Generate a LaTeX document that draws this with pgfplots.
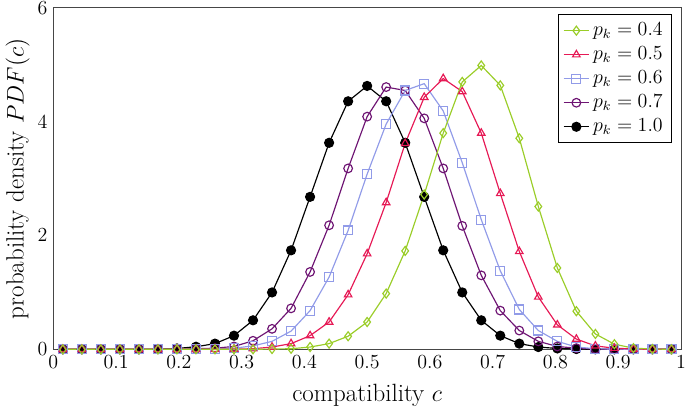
\documentclass[border=0pt]{standalone}
\usepackage{pgfplots}
\usepackage{pgfplotstable}
\pgfplotsset{compat=1.18}
\definecolor{cg}{RGB}{154,205,40}
\definecolor{cr}{RGB}{230,25,85}
\definecolor{cb}{RGB}{145,155,232}
\definecolor{cp}{RGB}{110,20,115}
\definecolor{axc}{RGB}{70,70,70}
\pgfplotstableread{
c p04 p05 p06 p07 p10
0.0152 0 0 0 0 0
0.0455 0 0 0 0 0
0.0758 0 0 0 0 0
0.1061 0 0 0 0 0
0.1364 0 0 0 0 0
0.1667 0 0 0 0 0.005
0.1970 0 0 0 0.005 0.015
0.2273 0 0 0 0.01 0.045
0.2576 0 0 0.005 0.02 0.10
0.2879 0 0.005 0.02 0.05 0.24
0.3182 0 0.01 0.06 0.15 0.51
0.3485 0.005 0.04 0.14 0.36 1.00
0.3788 0.01 0.10 0.32 0.72 1.74
0.4091 0.04 0.24 0.68 1.36 2.68
0.4394 0.10 0.48 1.27 2.18 3.63
0.4697 0.23 0.96 2.09 3.18 4.36
0.5000 0.48 1.68 3.08 4.09 4.63
0.5303 0.98 2.58 3.96 4.61 4.36
0.5606 1.73 3.62 4.55 4.55 3.63
0.5909 2.72 4.43 4.67 4.06 2.68
0.6212 3.80 4.76 4.19 3.18 1.74
0.6515 4.70 4.53 3.28 2.17 1.00
0.6818 4.99 3.80 2.28 1.30 0.51
0.7121 4.64 2.74 1.38 0.68 0.24
0.7424 3.71 1.72 0.70 0.33 0.10
0.7727 2.51 0.92 0.33 0.14 0.04
0.8030 1.43 0.43 0.14 0.05 0.015
0.8333 0.67 0.18 0.04 0.02 0.005
0.8636 0.27 0.06 0.01 0.005 0
0.8939 0.09 0.02 0.005 0 0
0.9242 0.02 0.005 0 0 0
0.9545 0.005 0 0 0 0
0.9848 0 0 0 0 0
}\datatable
\begin{document}
\begin{tikzpicture}
\begin{axis}[
  scale only axis,
  width=377pt, height=205pt,
  xmin=0, xmax=1, ymin=0, ymax=6,
  xtick={0,0.1,0.2,0.3,0.4,0.5,0.6,0.7,0.8,0.9,1},
  ytick={0,2,4,6},
  tick style={draw=none},
  axis line style={axc, line width=0.6pt},
  tick label style={font=\large},
  xlabel={\fontsize{15}{18}\selectfont compatibility $c$},
  ylabel={\fontsize{15}{18}\selectfont probability density $PDF(c)$},
  xlabel style={yshift=-3pt},
  ylabel style={yshift=-2pt},
  legend style={at={(0.985,0.982)}, anchor=north east, draw=black, line width=0.6pt, font=\large, row sep=1.2pt, inner sep=3pt},
  legend cell align=left,
  reverse legend,
  legend image code/.code={\draw[mark repeat=2,mark phase=2] plot coordinates {(0cm,0cm) (0.27cm,0cm) (0.54cm,0cm)};},
  every axis plot/.append style={line width=0.7pt},
]
\addplot[black, mark=*, mark size=2.7pt] table[x=c, y=p10] {\datatable};
\addlegendentry{$p_k=1.0$}
\addplot[cp, mark=o, mark size=2.6pt, mark options={line width=0.7pt}] table[x=c, y=p07] {\datatable};
\addlegendentry{$p_k=0.7$}
\addplot[cb, mark=square, mark size=2.7pt, mark options={line width=0.7pt}] table[x=c, y=p06] {\datatable};
\addlegendentry{$p_k=0.6$}
\addplot[cr, mark=triangle, mark size=2.6pt, mark options={line width=0.7pt}] table[x=c, y=p05] {\datatable};
\addlegendentry{$p_k=0.5$}
\addplot[cg, mark=diamond, mark size=2.7pt, mark options={line width=0.7pt}] table[x=c, y=p04] {\datatable};
\addlegendentry{$p_k=0.4$}
\end{axis}
\pgfresetboundingbox
\useasboundingbox ([yshift=-2.4pt]current axis.outer south west) rectangle ([xshift=2.4pt,yshift=4.8pt]current axis.north east);
\end{tikzpicture}
\end{document}
